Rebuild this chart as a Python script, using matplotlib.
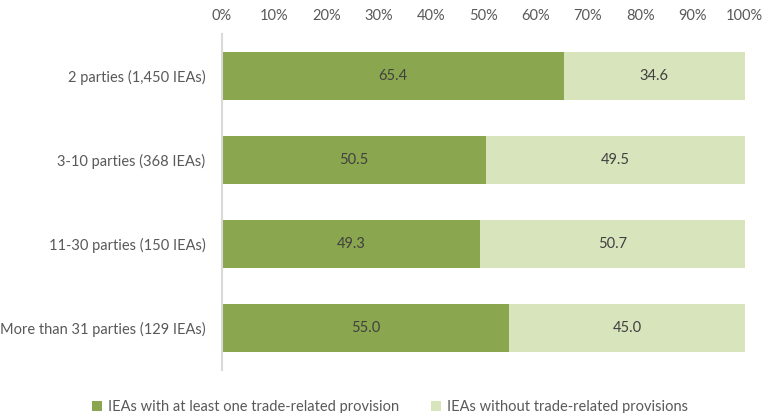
import numpy as np
import matplotlib
matplotlib.use("Agg")
import matplotlib.pyplot as plt
from matplotlib.ticker import PercentFormatter

plt.rcParams['font.family'] = ['Lato', 'DejaVu Sans']

categories = ["2 parties (1,450 IEAs)", "3-10 parties (368 IEAs)",
              "11-30 parties (150 IEAs)", "More than 31 parties (129 IEAs)"]
with_trade = [65.4, 50.5, 49.3, 55.0]
without_trade = [34.6, 49.5, 50.7, 45.0]
series_names = ["IEAs with at least one trade-related provision",
                "IEAs without trade-related provisions"]

dark = "#8aa64e"
light = "#d8e4bc"
txt = "#404040"

fig = plt.figure(figsize=(7.63, 4.13), dpi=100)
ax = fig.add_axes([0.291, 0.104, 0.685, 0.814])

y = np.arange(len(categories))
b1 = ax.barh(y, with_trade, height=0.57, color=dark, label=series_names[0])
b2 = ax.barh(y, without_trade, left=with_trade, height=0.57, color=light,
             label=series_names[1])

for bars, vals in ((b1, with_trade), (b2, without_trade)):
    for rect, v in zip(bars, vals):
        ax.text(rect.get_x() + rect.get_width() / 2, rect.get_y() + rect.get_height() / 2,
                f"{v:.1f}", ha="center", va="center", fontsize=10.5, color=txt)

ax.set_xlim(0, 100)
ax.set_ylim(len(categories) - 0.5, -0.5)
ax.set_yticks(y)
ax.set_yticklabels(categories)
ax.set_xticks(np.arange(0, 101, 10))
ax.xaxis.set_major_formatter(PercentFormatter(decimals=0))
ax.xaxis.tick_top()
ax.tick_params(axis="both", length=0, labelsize=10.5, labelcolor="#595959")
ax.tick_params(axis="x", pad=8)
ax.tick_params(axis="y", pad=12)

for s in ("top", "right", "bottom"):
    ax.spines[s].set_visible(False)
ax.spines["left"].set_color("#d9d9d9")
ax.spines["left"].set_linewidth(1.5)

fig.legend(handles=[b1, b2], loc="lower center", bbox_to_anchor=(0.511, -0.035),
           ncol=2, frameon=False, fontsize=10.5, handlelength=0.7, handleheight=0.7,
           handletextpad=0.4, columnspacing=2.2, labelcolor="#595959")

fig.savefig("out.png", dpi=100)
